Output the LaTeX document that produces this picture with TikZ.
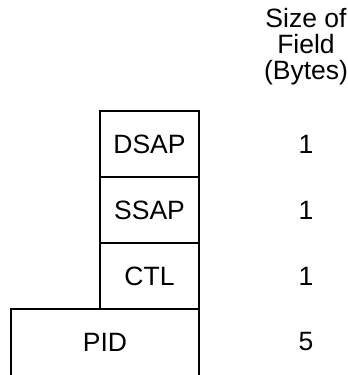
\documentclass[tikz,border=0pt]{standalone}
\usepackage{fontspec}
\setmainfont{Liberation Sans}
\usetikzlibrary{positioning}
\tikzset{
	field/.style={draw=black,line width=1.1pt,minimum width=99pt,minimum height=66pt,
		inner sep=0pt,outer sep=0pt,font=\fontsize{26.5}{26}\selectfont},
	size/.style={font=\fontsize{26.5}{26}\selectfont},
}

\begin{document}
\begin{tikzpicture}[x=1pt,y=-1pt]
	\useasboundingbox (0,0) rectangle (348,375);
	\node[size,align=center,anchor=north] (hdr) at (306,5) {Size of\\Field\\(Bytes)};
	\node[field] (dsap) at (149.5,144) {DSAP};
	\node[field,below=0pt of dsap] (ssap) {SSAP};
	\node[field,below=0pt of ssap] (ctl) {CTL};
	% open at the bottom
	\node[field,draw=none,minimum width=188pt,anchor=north east] (pid) at (ctl.south east) {PID};
	\draw[line width=1.1pt] (pid.south west) -- (pid.north west) -- (pid.north east) -- (pid.south east);
	\foreach \f/\n in {dsap/1,ssap/1,ctl/1,pid/5}
	\node[size] (n-\f) at (\f -| hdr) {\n};
\end{tikzpicture}
\end{document}
